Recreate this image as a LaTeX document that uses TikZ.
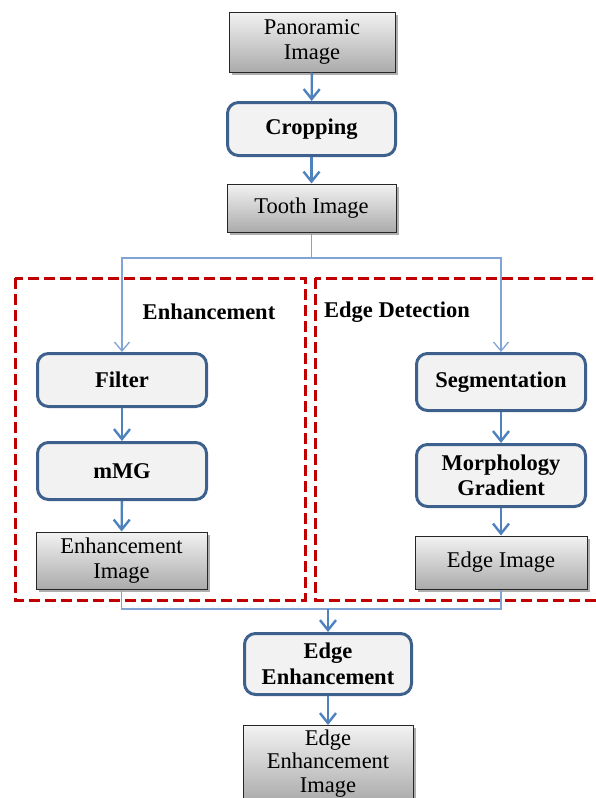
\documentclass[tikz,border=0pt]{standalone}
\usepackage{fontspec}
\setmainfont{Liberation Serif}
\usetikzlibrary{arrows.meta}
\usetikzlibrary{shadows}

\definecolor{arrowblue}{RGB}{79,129,189}
\definecolor{lineblue}{RGB}{128,164,212}
\definecolor{procedge}{RGB}{62,96,141}
\definecolor{procfill}{RGB}{242,242,242}
\definecolor{dashred}{RGB}{192,0,0}

\begin{document}
\begin{tikzpicture}[x=1pt,y=-1pt,
    txt/.style={font=\fontsize{22.5}{25.5}\selectfont, align=center, inner sep=0pt},
    databox/.style={txt, draw=black!85, line width=1pt, top color=black!5, bottom color=black!33,
        drop shadow={shadow xshift=2.5pt, shadow yshift=-2.5pt, opacity=0.45, fill=black!70}},
    procbox/.style={txt, font=\fontsize{22.5}{25.5}\selectfont\bfseries, draw=procedge, line width=3pt,
        fill=procfill, rounded corners=11pt},
    flow/.style={draw=arrowblue, line width=2.4pt, -{Straight Barb[length=10pt,width=16pt]}},
    branch/.style={draw=lineblue, line width=1.3pt},
    group/.style={draw=dashred, line width=3pt, dash pattern=on 11pt off 5pt}]
    \useasboundingbox (0,0) rectangle (595,798);
    %Group: Enhancement
    \draw [group] (15,278) rectangle (305,600);
    %Group: Edge Detection
    \draw [group] (315,278) rectangle (612,600);
    \node [txt, font=\fontsize{22.5}{25.5}\selectfont\bfseries] (enhlabel) at (209,312) {Enhancement};
    \node [txt, font=\fontsize{22.5}{25.5}\selectfont\bfseries] (edgelabel) at (397,312) {Edge Detection};
    %Top chain
    \node [databox, minimum width=166, minimum height=60] (pano) at (312,42) {Panoramic\\Image};
    \node [procbox, minimum width=168, minimum height=53] (crop) at (311.5,129) {Cropping};
    \node [databox, minimum width=169, minimum height=48] (tooth) at (311.5,208) {Tooth Image};
    %Left branch
    \node [procbox, minimum width=169, minimum height=53] (filter) at (122,380) {Filter};
    \node [procbox, minimum width=169, minimum height=57] (mmg) at (122,471) {mMG};
    \node [databox, minimum width=171, minimum height=57] (enhimg) at (121.5,560.5) {Enhancement\\Image};
    %Right branch
    \node [procbox, minimum width=169, minimum height=57] (seg) at (501,382) {Segmentation};
    \node [procbox, minimum width=169, minimum height=62] (morph) at (501,475.5) {Morphology\\Gradient};
    \node [databox, minimum width=172, minimum height=53] (edgeimg) at (501,562.5) {Edge Image};
    %Bottom chain
    \node [procbox, minimum width=167, minimum height=61] (edgeenh) at (328,664) {Edge\\Enhancement};
    \node [databox, minimum width=170, minimum height=76,
        font=\fontsize{22.5}{23.5}\selectfont, anchor=north] (edgeenhimg) at (328,725) {Edge\\Enhancement\\Image};
    %Connectors
    \coordinate (split) at (311.5,258);
    \coordinate (join) at (328,609);
    \draw [flow] (pano) -- (crop);
    \draw [flow] (crop) -- (tooth);
    \draw [branch] (tooth) -- (split);
    \draw [branch, -{Straight Barb[length=9pt,width=15pt]}] (split) -| (filter);
    \draw [branch, -{Straight Barb[length=9pt,width=15pt]}] (split) -| (seg);
    \draw [flow] (filter) -- (mmg);
    \draw [flow] (mmg) -- (enhimg);
    \draw [flow] (seg) -- (morph);
    \draw [flow] (morph) -- (edgeimg);
    \draw [branch] (enhimg) |- (join);
    \draw [branch] (edgeimg) |- (join);
    \draw [flow] (join) -- (edgeenh);
    \draw [flow] (edgeenh) -- (edgeenhimg);
\end{tikzpicture}
\end{document}
